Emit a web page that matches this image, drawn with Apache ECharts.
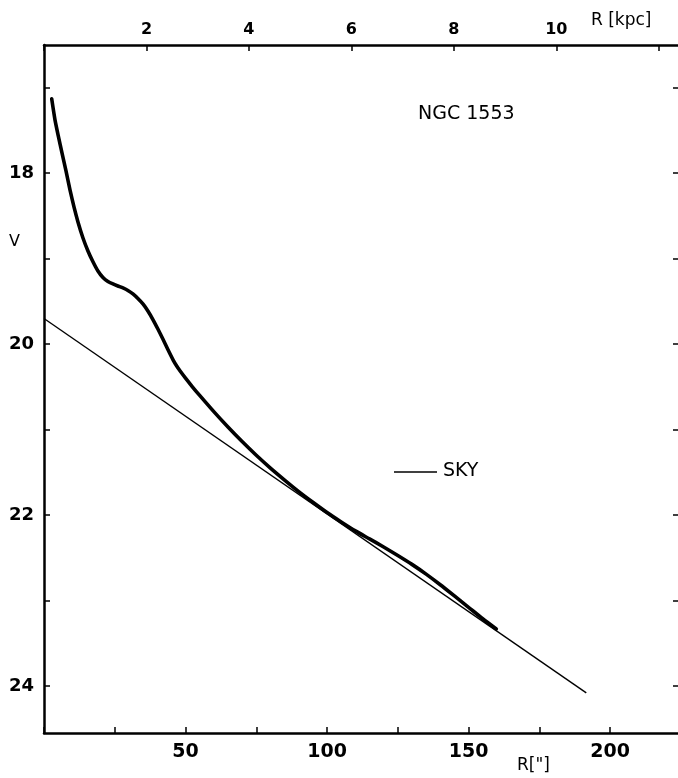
<!DOCTYPE html>
<html>
<head>
<meta charset="utf-8">
<script src="https://cdn.jsdelivr.net/npm/echarts@6/dist/echarts.min.js"></script>
<style>
html,body{margin:0;padding:0;background:#fff;}
#chart{width:678px;height:778px;}
</style>
</head>
<body>
<div id="chart"></div>
<script>
// Data (R in arcsec, V in mag/arcsec^2)
var profileR = [2.72, 3.88, 5.12, 6.35, 7.77, 9.18, 10.59, 12.0, 13.77, 15.53, 17.3, 19.06, 20.83, 22.59, 24.36, 26.12, 27.89, 29.65, 31.42, 33.18, 34.95, 36.71, 38.48, 40.24, 42.0, 43.77, 45.64, 47.0, 48.5, 50, 52.5, 55, 60, 65, 70, 75, 80, 85, 90, 95, 100, 105, 110, 115, 120, 125, 130, 135, 140, 145, 150, 155, 159.8];
var profileV = [17.13, 17.376, 17.575, 17.762, 17.973, 18.195, 18.395, 18.57, 18.758, 18.91, 19.036, 19.144, 19.22, 19.267, 19.296, 19.32, 19.343, 19.372, 19.413, 19.466, 19.53, 19.612, 19.712, 19.823, 19.94, 20.063, 20.186, 20.262, 20.332, 20.398, 20.502, 20.60, 20.79, 20.97, 21.14, 21.30, 21.45, 21.59, 21.725, 21.85, 21.97, 22.08, 22.185, 22.279, 22.373, 22.473, 22.577, 22.691, 22.815, 22.946, 23.079, 23.213, 23.333];
var skyR = [0, 191.6];
var skyV = [19.70, 24.08];

var xTicksArcsec = [0, 25, 50, 75, 100, 125, 150, 175, 200];
var xLabelsArcsec = [50, 100, 150, 200];
var xTicksKpc = [0, 2, 4, 6, 8, 10, 12];
var xLabelsKpc = [2, 4, 6, 8, 10];
var yTicks = [17, 18, 19, 20, 21, 22, 23, 24];
var yLabels = [18, 20, 22, 24];

var arcsecPerKpc = 18.1;
var xMax = 224;
var yMin = 16.5, yMax = 24.55;

function zip(a, b) { return a.map(function (v, i) { return [v, b[i]]; }); }

var chart = echarts.init(document.getElementById('chart'), null, {renderer: 'canvas'});
var FONT = 'DejaVu Sans';
var axisLineStyle = {color: '#000', width: 2.5};

chart.setOption({
  animation: false,
  backgroundColor: '#fff',
  grid: {left: 44, right: 0, top: 45, bottom: 45, containLabel: false},
  xAxis: [
    {
      type: 'value', position: 'bottom', min: 0, max: xMax,
      axisLine: {show: true, onZero: false, lineStyle: axisLineStyle},
      axisTick: {show: true, inside: true, length: 6, lineStyle: {color: '#000', width: 1.5}, customValues: xTicksArcsec},
      axisLabel: {show: true, customValues: xLabelsArcsec, margin: 10, color: '#000', fontFamily: FONT, fontWeight: 'bold', fontSize: 19},
      splitLine: {show: false}
    },
    {
      type: 'value', position: 'top', min: 0, max: xMax / arcsecPerKpc,
      axisLine: {show: true, onZero: false, lineStyle: axisLineStyle},
      axisTick: {show: true, inside: true, length: 6, lineStyle: {color: '#000', width: 1.5}, customValues: xTicksKpc},
      axisLabel: {show: true, customValues: xLabelsKpc, margin: 7, color: '#000', fontFamily: FONT, fontWeight: 'bold', fontSize: 16},
      splitLine: {show: false}
    }
  ],
  yAxis: [
    {
      type: 'value', position: 'left', inverse: true, min: yMin, max: yMax,
      axisLine: {show: true, onZero: false, lineStyle: axisLineStyle},
      axisTick: {show: true, inside: true, length: 6, lineStyle: {color: '#000', width: 1.5}, customValues: yTicks},
      axisLabel: {show: true, customValues: yLabels, margin: 10, color: '#000', fontFamily: FONT, fontWeight: 'bold', fontSize: 18},
      splitLine: {show: false}
    },
    {
      type: 'value', position: 'right', inverse: true, min: yMin, max: yMax,
      axisLine: {show: false, onZero: false},
      axisTick: {show: true, inside: true, length: 5, lineStyle: {color: '#000', width: 1.5}, customValues: yTicks},
      axisLabel: {show: false},
      splitLine: {show: false}
    }
  ],
  series: [
    {
      name: 'sky', type: 'line', xAxisIndex: 0, yAxisIndex: 0,
      data: zip(skyR, skyV), showSymbol: false, symbol: 'none',
      lineStyle: {color: '#000', width: 1.4}
    },
    {
      name: 'NGC 1553', type: 'line', xAxisIndex: 0, yAxisIndex: 0,
      data: zip(profileR, profileV), showSymbol: false, symbol: 'none', smooth: 0.2,
      lineStyle: {color: '#000', width: 3.6, cap: 'round', join: 'round'}
    }
  ],
  graphic: [
    {type: 'text', left: 418, top: 105, style: {text: 'NGC 1553', fontFamily: FONT, fontSize: 19, fill: '#000'}},
    {type: 'line', shape: {x1: 394, y1: 472, x2: 437, y2: 472}, style: {stroke: '#000', lineWidth: 1.5}},
    {type: 'text', left: 443, top: 462, style: {text: 'SKY', fontFamily: FONT, fontSize: 19, fill: '#000'}},
    {type: 'text', left: 9, top: 234, style: {text: 'V', fontFamily: FONT, fontSize: 16, fill: '#000'}},
    {type: 'text', left: 517, top: 757, style: {text: 'R["]', fontFamily: FONT, fontSize: 17, fill: '#000'}},
    {type: 'text', left: 591, top: 12, style: {text: 'R [kpc]', fontFamily: FONT, fontSize: 17, fill: '#000'}}
  ]
});
</script>
</body>
</html>
